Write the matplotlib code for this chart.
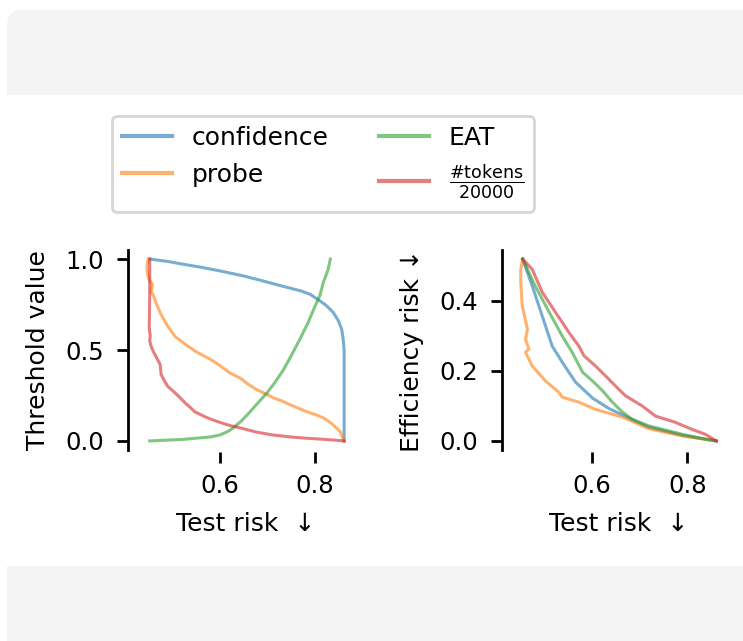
import numpy as np
import matplotlib
matplotlib.use("Agg")
import matplotlib.pyplot as plt
from matplotlib.patches import FancyBboxPatch, Rectangle

# --- left panel: threshold value vs test risk ---
conf_x = [0.453, 0.49, 0.522, 0.56, 0.60, 0.65, 0.70, 0.74, 0.77, 0.79, 0.805, 0.822, 0.838, 0.849, 0.856, 0.859, 0.861, 0.861, 0.861]
conf_y = [1.0, 0.987, 0.972, 0.955, 0.935, 0.907, 0.873, 0.845, 0.825, 0.806, 0.779, 0.748, 0.707, 0.66, 0.613, 0.56, 0.50, 0.25, 0.0]

probe_x = [0.449, 0.446, 0.448, 0.452, 0.458, 0.455, 0.46, 0.465, 0.475, 0.49, 0.505, 0.52, 0.533, 0.55, 0.568, 0.585, 0.602, 0.62, 0.642, 0.66, 0.677, 0.695, 0.712, 0.73, 0.747, 0.765, 0.783, 0.80, 0.817, 0.83, 0.838, 0.853, 0.861]
probe_y = [1.0, 0.96, 0.91, 0.88, 0.86, 0.82, 0.80, 0.76, 0.70, 0.63, 0.575, 0.545, 0.52, 0.49, 0.465, 0.44, 0.41, 0.375, 0.346, 0.31, 0.282, 0.26, 0.237, 0.22, 0.199, 0.18, 0.16, 0.145, 0.127, 0.105, 0.088, 0.05, 0.0]

eat_x = [0.452, 0.52, 0.58, 0.60, 0.615, 0.627, 0.645, 0.663, 0.68, 0.699, 0.715, 0.733, 0.75, 0.768, 0.785, 0.80, 0.81, 0.817, 0.827, 0.832]
eat_y = [0.0, 0.008, 0.022, 0.033, 0.05, 0.07, 0.11, 0.16, 0.21, 0.265, 0.32, 0.39, 0.47, 0.56, 0.65, 0.742, 0.80, 0.87, 0.94, 1.0]

tok_x = [0.452, 0.452, 0.451, 0.453, 0.452, 0.455, 0.46, 0.465, 0.474, 0.476, 0.483, 0.49, 0.505, 0.515, 0.526, 0.537, 0.547, 0.568, 0.585, 0.602, 0.62, 0.642, 0.677, 0.71, 0.747, 0.78, 0.817, 0.861]
tok_y = [1.0, 0.8, 0.62, 0.58, 0.55, 0.52, 0.49, 0.465, 0.42, 0.365, 0.33, 0.30, 0.265, 0.24, 0.21, 0.185, 0.16, 0.133, 0.115, 0.10, 0.085, 0.072, 0.048, 0.033, 0.022, 0.015, 0.009, 0.0]

# --- right panel: efficiency risk vs test risk ---
conf2_x = [0.454, 0.474, 0.495, 0.516, 0.537, 0.565, 0.601, 0.636, 0.664, 0.719, 0.789, 0.861]
conf2_y = [0.519, 0.443, 0.357, 0.271, 0.225, 0.168, 0.122, 0.092, 0.074, 0.039, 0.016, 0.0]

probe2_x = [0.454, 0.45, 0.45, 0.453, 0.464, 0.46, 0.467, 0.46, 0.474, 0.502, 0.53, 0.537, 0.573, 0.607, 0.643, 0.664, 0.719, 0.79, 0.861]
probe2_y = [0.519, 0.49, 0.453, 0.386, 0.319, 0.29, 0.262, 0.253, 0.214, 0.171, 0.139, 0.125, 0.11, 0.09, 0.076, 0.068, 0.035, 0.014, 0.0]

eat2_x = [0.454, 0.48, 0.51, 0.537, 0.558, 0.58, 0.601, 0.622, 0.643, 0.664, 0.684, 0.719, 0.789, 0.838, 0.861]
eat2_y = [0.519, 0.443, 0.367, 0.30, 0.253, 0.196, 0.171, 0.143, 0.11, 0.082, 0.062, 0.043, 0.019, 0.005, 0.0]

tok2_x = [0.454, 0.474, 0.495, 0.523, 0.537, 0.551, 0.572, 0.583, 0.607, 0.628, 0.649, 0.67, 0.705, 0.733, 0.775, 0.81, 0.838, 0.861]
tok2_y = [0.519, 0.49, 0.425, 0.367, 0.339, 0.31, 0.271, 0.243, 0.214, 0.186, 0.157, 0.129, 0.10, 0.071, 0.053, 0.033, 0.019, 0.0]

labels = ["confidence", "probe", "EAT", r"$\frac{\#\mathrm{tokens}}{20000}$"]
colors = ["#1f77b4", "#ff7f0e", "#2ca02c", "#d62728"]

plt.rcParams["font.family"] = "DejaVu Sans"
plt.rcParams["mathtext.fontset"] = "dejavusans"
plt.rcParams["font.size"] = 18

fig = plt.figure(figsize=(7.43, 6.41), dpi=100)
fig.patch.set_facecolor("white")

# card background (grey bands top and bottom)
card = FancyBboxPatch((0.07, -0.2), 7.5, 6.51, boxstyle="round,pad=0,rounding_size=0.16",
                      transform=fig.dpi_scale_trans, facecolor="#f4f4f4", edgecolor="none", zorder=-10)
fig.patches.append(card)
mid = Rectangle((0, 0.75), 7.43, 4.71, transform=fig.dpi_scale_trans,
                facecolor="white", edgecolor="none", zorder=-9)
fig.patches.append(mid)

ax1 = fig.add_axes([137 / 743, 1 - 450 / 641, 217 / 743, 200 / 641])
ax2 = fig.add_axes([511 / 743, 1 - 450 / 641, 215 / 743, 200 / 641])

left_series = [(conf_x, conf_y), (probe_x, probe_y), (eat_x, eat_y), (tok_x, tok_y)]
right_series = [(conf2_x, conf2_y), (probe2_x, probe2_y), (eat2_x, eat2_y), (tok2_x, tok2_y)]

handles = []
for (x, y), c, lab in zip(left_series, colors, labels):
    h, = ax1.plot(x, y, color=c, alpha=0.6, lw=2.2, label=lab)
    handles.append(h)
for (x, y), c in zip(right_series, colors):
    ax2.plot(x, y, color=c, alpha=0.6, lw=2.2)

ax1.set_yticks([0.0, 0.5, 1.0])
ax2.set_yticks([0.0, 0.2, 0.4])
for ax in (ax1, ax2):
    ax.set_facecolor("none")
    ax.set_xticks([0.6, 0.8])
    ax.spines["top"].set_visible(False)
    ax.spines["right"].set_visible(False)
    ax.spines["bottom"].set_color("none")
    ax.spines["left"].set_position(("outward", 6.5))
    ax.spines["bottom"].set_position(("outward", 1.5))
    ax.spines["left"].set_linewidth(2)
    ax.tick_params(axis="both", length=8, width=2, color="black", labelsize=17.5)
    ax.tick_params(axis="x", pad=7.5)
    ax.tick_params(axis="y", pad=9.5)
    ax.set_xlabel("Test risk  \u2193", labelpad=10.5)

ax1.set_ylabel("Threshold value", labelpad=11)
ax2.set_ylabel("Efficiency risk \u2193", labelpad=11)

leg = fig.legend(handles=handles, ncol=2, loc="center", bbox_to_anchor=(323 / 743, 1 - 164 / 641),
                 frameon=True, fontsize=18, columnspacing=2.0, handlelength=2.0)
leg.get_frame().set_edgecolor("#cccccc")
leg.get_frame().set_linewidth(2)
for l in leg.get_lines():
    l.set_linewidth(3)

fig.savefig("out.png", dpi=100)
